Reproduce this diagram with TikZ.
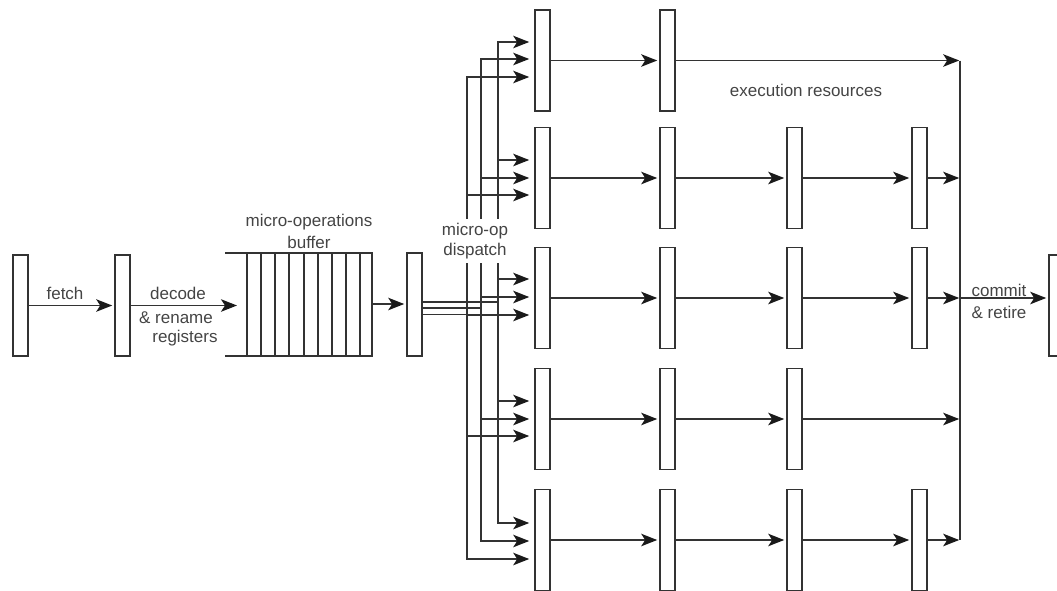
\documentclass[tikz,border=0pt]{standalone}
\usepackage{fontspec}
\setmainfont{Liberation Sans}
\usetikzlibrary{arrows.meta,calc}
\definecolor{ink}{HTML}{333333}
\definecolor{tipc}{HTML}{1A1A1A}
\definecolor{txt}{HTML}{444444}
\begin{document}
\begin{tikzpicture}[x=1pt,y=-1pt,
  reg/.style={draw=ink,line width=1.6pt,fill=white,minimum width=15pt,minimum height=101pt,inner sep=0pt},
  wire/.style={draw=ink,line width=1.6pt},
  tipa/.tip={Stealth[length=16pt,width=12.5pt,inset=4pt,color=tipc]},
  arr/.style={wire,-tipa,shorten >=2pt},
  darr/.style={wire,-tipa,shorten >=5pt},
  barr/.style={wire,tipa-tipa,shorten >=5pt,shorten <=5pt},
  lbl/.style={text=txt,font=\fontsize{17}{20}\selectfont,inner sep=0pt}]
\useasboundingbox (0,0) rectangle (1057,590);

% front end registers
\node[reg] (fe) at (20.5,305.5) {};
\node[reg] (de) at (122.5,305.5) {};
\node[reg,minimum height=103pt] (di) at (414.5,304.5) {};
\node[reg] (cr) at (1056.5,305.5) {};

% execution rows
\node[reg] (r11) at (542.5,60.5) {};
\node[reg] (r12) at (667.5,60.5) {};

\node[reg] (r21) at (542.5,178) {};
\node[reg] (r22) at (667.5,178) {};
\node[reg] (r23) at (794.5,178) {};
\node[reg] (r24) at (919.5,178) {};

\node[reg] (r31) at (542.5,298) {};
\node[reg] (r32) at (667.5,298) {};
\node[reg] (r33) at (794.5,298) {};
\node[reg] (r34) at (919.5,298) {};

\node[reg] (r41) at (542.5,419) {};
\node[reg] (r42) at (667.5,419) {};
\node[reg] (r43) at (794.5,419) {};

\node[reg] (r51) at (542.5,540) {};
\node[reg] (r52) at (667.5,540) {};
\node[reg] (r53) at (794.5,540) {};
\node[reg] (r54) at (919.5,540) {};

% buffer
\draw[wire] (225,253) -- (373,253);
\draw[wire] (225,356) -- (373,356);
\foreach \xx in {247,261,275,289,304,318,332,346,360,372}
  \draw[wire] (\xx,253) -- (\xx,356);
\coordinate (bufin) at (237,305.5);
\coordinate (bufout) at (372,304);

% front-end arrows
\draw[arr] (fe) -- (de);
\draw[arr,shorten >=0pt] (de.east) -- (bufin);
\draw[arr] (bufout) -- (bufout -| di.west);

% dispatch buses
\coordinate (A1) at (498,42);  \coordinate (A2) at (498,160); \coordinate (A3) at (498,279);
\coordinate (A4) at (498,401); \coordinate (A5) at (498,523);
\coordinate (B1) at (481,59);  \coordinate (B2) at (481,178); \coordinate (B3) at (481,297);
\coordinate (B4) at (481,419); \coordinate (B5) at (481,541);
\coordinate (C1) at (467,77);  \coordinate (C2) at (467,195); \coordinate (C3) at (467,315);
\coordinate (C4) at (467,436); \coordinate (C5) at (467,559);

\draw[barr] (A1 -| r11.west) -- (A1) -- (A5) -- (A5 -| r51.west);
\draw[barr] (B1 -| r11.west) -- (B1) -- (B5) -- (B5 -| r51.west);
\draw[barr] (C1 -| r11.west) -- (C1) -- (C5) -- (C5 -| r51.west);
\draw[darr] (A2) -- (A2 -| r21.west);
\draw[darr] (A3) -- (A3 -| r31.west);
\draw[darr] (A4) -- (A4 -| r41.west);
\draw[darr] (B2) -- (B2 -| r21.west);
\draw[darr] (B3) -- (B3 -| r31.west);
\draw[darr] (B4) -- (B4 -| r41.west);
\draw[darr] (C2) -- (C2 -| r21.west);
\draw[darr] (C3) -- (C3 -| r31.west);
\draw[darr] (C4) -- (C4 -| r41.west);

% dispatch feed lines
\coordinate (d1) at ($(di.east)+(0,-2.5)$);
\coordinate (d2) at ($(di.east)+(0,3.5)$);
\coordinate (d3) at ($(di.east)+(0,10)$);
\draw[wire] (d1) -- (d1 -| A1);
\draw[wire] (d2) -- (d2 -| B1);
\draw[wire] (d3) -- (d3 -| C1);

% pipeline arrows
\draw[arr] (r11) -- (r12);
\draw[arr] (r21) -- (r22); \draw[arr] (r22) -- (r23); \draw[arr] (r23) -- (r24);
\draw[arr] (r31) -- (r32); \draw[arr] (r32) -- (r33); \draw[arr] (r33) -- (r34);
\draw[arr] (r41) -- (r42); \draw[arr] (r42) -- (r43);
\draw[arr] (r51) -- (r52); \draw[arr] (r52) -- (r53); \draw[arr] (r53) -- (r54);

% commit bus
\coordinate (cbus) at (960,0);
\draw[wire] (r12.east -| cbus) -- (r54.east -| cbus);
\draw[arr,shorten >=0.8pt] (r12.east) -- (r12.east -| cbus);
\draw[arr,shorten >=0.8pt] (r24.east) -- (r24.east -| cbus);
\draw[arr,shorten >=0.8pt] (r34.east) -- (r34.east -| cbus);
\draw[arr,shorten >=0.8pt] (r43.east) -- (r43.east -| cbus);
\draw[arr,shorten >=0.8pt] (r54.east) -- (r54.east -| cbus);
\draw[arr] (r34.east -| cbus) -- (r34.east -| cr.west);

% labels
\node[lbl] (lfetch) at (65,293) {fetch};
\node[lbl] (ldec) at (178,293) {decode};
\node[lbl] (lren) at (176,318) {\& rename};
\node[lbl] (lreg) at (185,338) {registers};
\node[lbl] (lbuf1) at (309,222) {micro-operations};
\node[lbl] (lbuf2) at (309,242) {buffer};
\node[lbl,fill=white,align=center,inner sep=4pt] (ldisp) at (475,241) {micro-op\\dispatch};
\node[lbl] (lexec) at (806,90) {execution resources};
\node[lbl] (lcom) at (999,290) {commit};
\node[lbl] (lret) at (999,312) {\& retire};
\end{tikzpicture}
\end{document}
